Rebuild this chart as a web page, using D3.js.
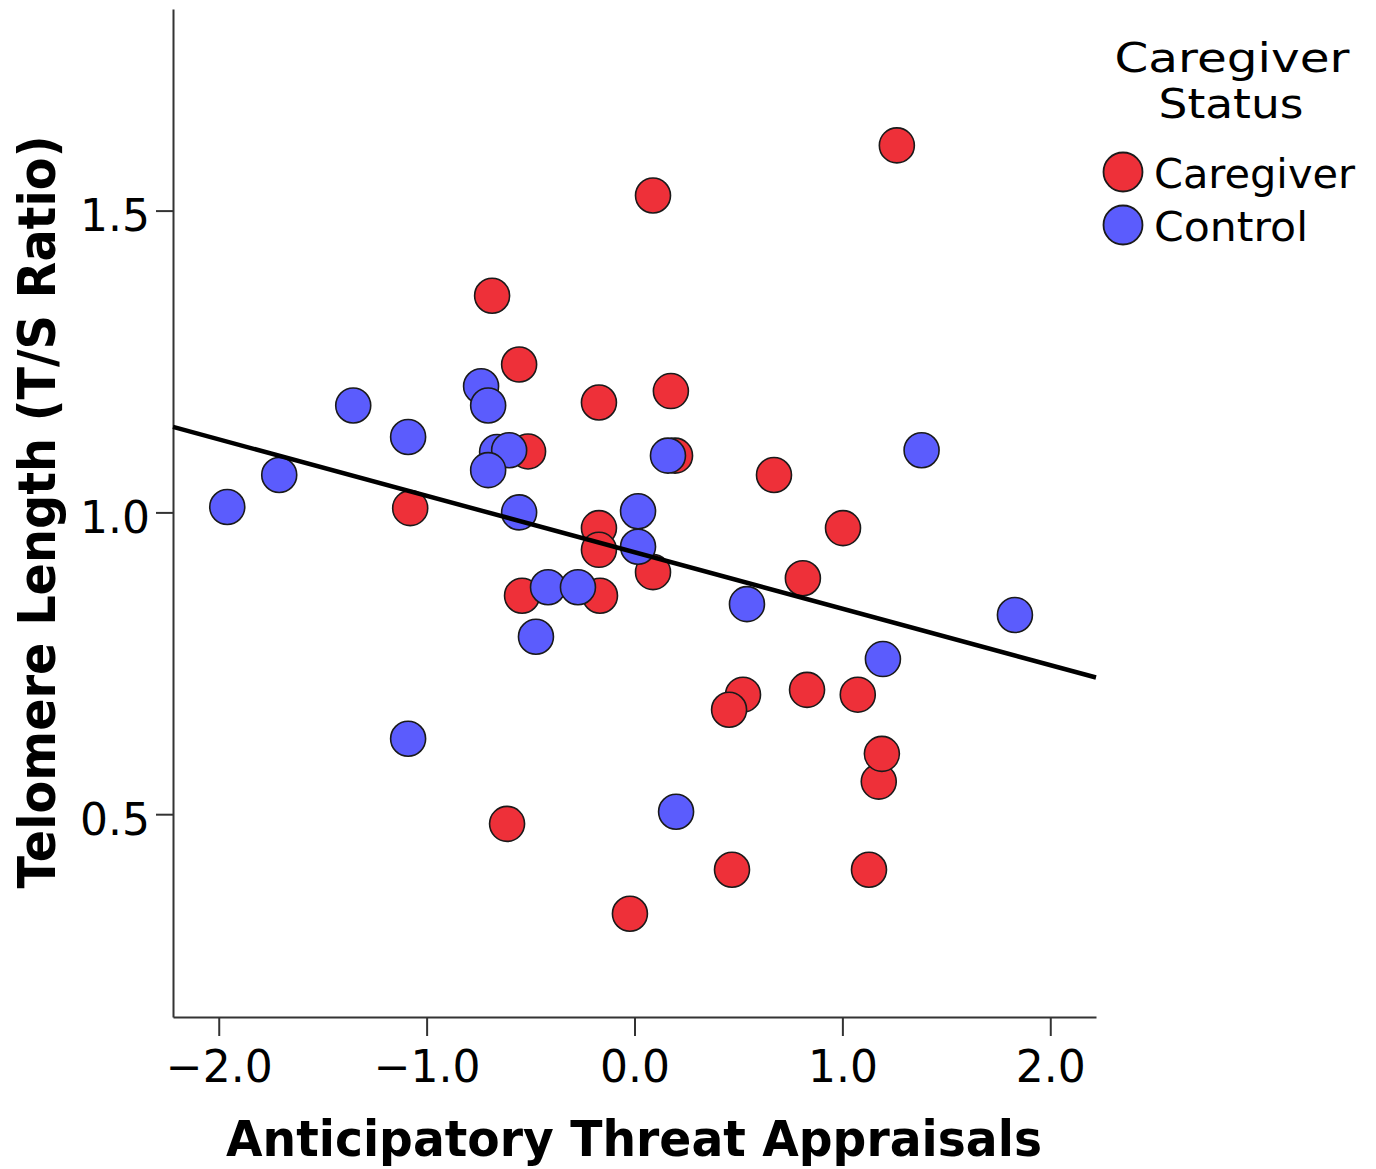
<!DOCTYPE html>
<html>
<head>
<meta charset="utf-8">
<script src="https://cdn.jsdelivr.net/npm/d3@7"></script>
<style>
  body { margin: 0; background: #fff; }
  svg { display: block; }
  text { font-family: "DejaVu Sans", sans-serif; fill: #000; }
</style>
</head>
<body>
<svg id="chart" width="1376" height="1169"></svg>
<script>
// Caregiver group (red)
const caregiverX = [1.262, 0.089, -0.685, -0.555, -0.171, 0.175, -0.512, 0.195, -1.079, -0.171,
  -0.171, -0.541, -0.166, 0.089, 0.671, 1.003, 0.810, 0.830, 0.522, 0.455,
  1.074, 1.175, 1.190, -0.613, 0.469, 1.128, -0.022];
const caregiverY = [1.608, 1.525, 1.359, 1.245, 1.182, 1.201, 1.101, 1.094, 1.007, 0.974,
  0.938, 0.862, 0.862, 0.901, 1.062, 0.974, 0.891, 0.706, 0.698, 0.673,
  0.698, 0.554, 0.600, 0.484, 0.408, 0.408, 0.335];

// Control group (blue)
const controlX = [-1.959, -1.709, -1.353, -1.089, -1.089, -0.738, -0.704, -0.661, -0.603, -0.704,
  -0.555, -0.474, -0.416, -0.272, 0.017, 0.017, 0.161, 0.200, 0.541, 1.195,
  1.381, 1.830];
const controlY = [1.009, 1.062, 1.177, 1.125, 0.625, 1.209, 1.177, 1.100, 1.103, 1.070,
  1.000, 0.794, 0.876, 0.876, 1.002, 0.943, 1.094, 0.504, 0.848, 0.757,
  1.103, 0.830];

// overall linear fit
const fitIntercept = 0.934;
const fitSlope = -0.0935;

const xTicks = [-2, -1, 0, 1, 2];
const yTicks = [0.5, 1.0, 1.5];
const groups = ["Caregiver", "Control"];
const groupColors = ["#ee3039", "#5b5cfd"];

const svg = d3.select("#chart");

const x = d3.scaleLinear().domain([-2.22, 2.22]).range([173, 1096]);
const y = d3.scaleLinear().domain([0.164, 1.834]).range([1017, 9]);
const color = d3.scaleOrdinal().domain(groups).range(groupColors);

const fmt = d3.format(".1f");

// axes
const gx = svg.append("g")
  .attr("transform", `translate(0,${y.range()[0]})`)
  .call(d3.axisBottom(x).tickValues(xTicks).tickFormat(fmt).tickSize(19).tickSizeOuter(0).tickPadding(15));

const gy = svg.append("g")
  .attr("transform", `translate(${x.range()[0]},0)`)
  .call(d3.axisLeft(y).tickValues(yTicks).tickFormat(fmt).tickSize(17).tickSizeOuter(0).tickPadding(6));

[gx, gy].forEach((g) => {
  g.select(".domain").attr("stroke", "#333").attr("stroke-width", 2);
  g.selectAll(".tick line").attr("stroke", "#333").attr("stroke-width", 2);
  g.selectAll(".tick text")
    .attr("font-family", null)
    .attr("font-size", 44)
    .attr("fill", "#000");
});
gy.selectAll(".tick text").attr("dy", "0.46em");

// points
const points = [
  ...caregiverX.map((v, i) => ({ x: v, y: caregiverY[i], group: "Caregiver" })),
  ...controlX.map((v, i) => ({ x: v, y: controlY[i], group: "Control" })),
];

svg.append("g")
  .selectAll("circle")
  .data(points)
  .join("circle")
  .attr("cx", (d) => x(d.x))
  .attr("cy", (d) => y(d.y))
  .attr("r", 17.5)
  .attr("fill", (d) => color(d.group))
  .attr("stroke", "#1a1a1a")
  .attr("stroke-width", 1.6);

// fit line
const [x0, x1] = x.domain();
svg.append("line")
  .attr("x1", x(x0))
  .attr("y1", y(fitIntercept + fitSlope * x0))
  .attr("x2", x(x1))
  .attr("y2", y(fitIntercept + fitSlope * x1))
  .attr("stroke", "#000")
  .attr("stroke-width", 4.5);

// axis titles
svg.append("text")
  .attr("x", 634)
  .attr("y", 1156)
  .attr("text-anchor", "middle")
  .attr("font-size", 50)
  .attr("font-weight", "bold")
  .attr("textLength", 816)
  .attr("lengthAdjust", "spacingAndGlyphs")
  .text("Anticipatory Threat Appraisals");

svg.append("text")
  .attr("transform", "translate(55,512) rotate(-90)")
  .attr("text-anchor", "middle")
  .attr("font-size", 52)
  .attr("font-weight", "bold")
  .attr("textLength", 753)
  .attr("lengthAdjust", "spacingAndGlyphs")
  .text("Telomere Length (T/S Ratio)");

// legend
const legend = svg.append("g");
legend.append("text")
  .attr("x", 1232).attr("y", 72)
  .attr("text-anchor", "middle")
  .attr("font-size", 41)
  .attr("textLength", 235)
  .attr("lengthAdjust", "spacingAndGlyphs")
  .text("Caregiver");
legend.append("text")
  .attr("x", 1231).attr("y", 118)
  .attr("text-anchor", "middle")
  .attr("font-size", 41)
  .attr("textLength", 145)
  .attr("lengthAdjust", "spacingAndGlyphs")
  .text("Status");

const itemWidths = [201, 154];
const items = legend.selectAll("g.item")
  .data(groups)
  .join("g")
  .attr("class", "item")
  .attr("transform", (d, i) => `translate(1123,${172 + i * 53})`);

items.append("circle")
  .attr("r", 19.5)
  .attr("fill", (d) => color(d))
  .attr("stroke", "#1a1a1a")
  .attr("stroke-width", 1.8);

items.append("text")
  .attr("x", 31)
  .attr("y", 16)
  .attr("font-size", 41)
  .attr("textLength", (d, i) => itemWidths[i])
  .attr("lengthAdjust", "spacingAndGlyphs")
  .text((d) => d);
</script>
</body>
</html>
